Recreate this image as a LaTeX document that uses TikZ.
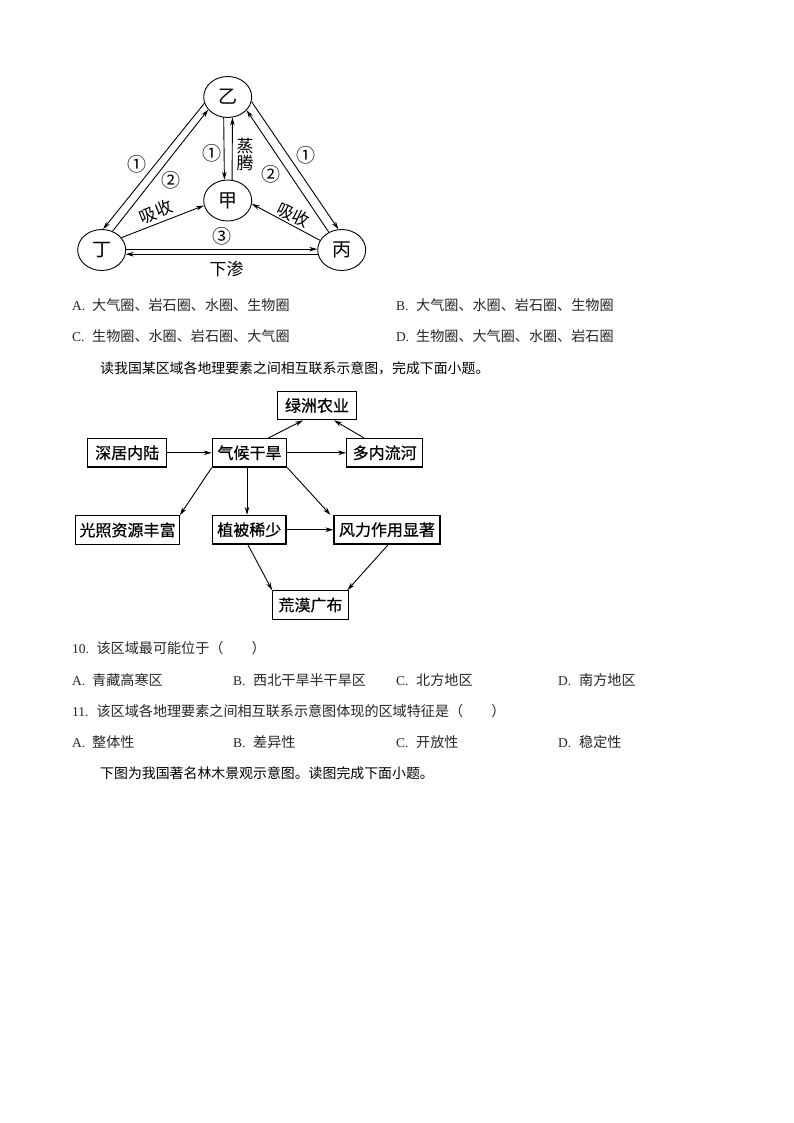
\documentclass[tikz,border=0pt]{standalone}
\usepackage{fontspec}
\setmainfont{Liberation Serif}
\newfontfamily\cjk{Noto Sans CJK SC}
\newfontfamily\cjkbox[FakeBold=0.5]{Noto Sans CJK SC}
\usetikzlibrary{arrows.meta,shapes.geometric}
\tikzset{
  flow/.style={-{Stealth[length=8pt,width=4.6pt]}, line width=0.9pt},
  sphere/.style={draw, ellipse, line width=0.9pt, minimum width=48pt, minimum height=41pt, inner sep=0pt, font=\fontsize{19}{19}\selectfont\cjk},
  tag/.style={inner sep=0pt, font=\fontsize{17}{17}\selectfont\cjk},
  mark no/.style={inner sep=0pt, font=\fontsize{19}{19}\selectfont\cjk},
  factor/.style={draw, line width=1.2pt, minimum height=28.5pt, inner sep=0pt, font=\fontsize{16}{16}\selectfont\cjkbox},
  optkey/.style={anchor=base west, inner sep=0pt, font=\fontsize{13.5}{14}\selectfont, black!85},
  opttext/.style={anchor=base west, inner sep=0pt, font=\fontsize{14.1}{14}\selectfont\cjk, black!85},
  hint/.style={anchor=base west, inner sep=0pt, font=\fontsize{13.9}{14}\selectfont\cjk, black}
}
\begin{document}
\begin{tikzpicture}[x=1pt, y=-1pt]
    \useasboundingbox[fill=white] (0,0) rectangle (794,1123);

    \node[sphere] (yi) at (227.7,97) {乙};
    \node[sphere] (jia) at (227.7,200.5) {甲};
    \node[sphere] (ding) at (101.7,250) {丁};
    \node[sphere] (bing) at (341.7,250) {丙};

    \draw[flow] (yi.195)--(ding.86);
    \draw[flow] (ding.60)--(yi.213);
    \draw[flow] (yi.259)--(jia.99);
    \draw[flow] (jia.78)--(yi.283);
    \draw[flow] (yi.349)--(bing.99);
    \draw[flow] (bing.126)--(yi.325);
    \draw[flow] (ding.32)--(jia.192);
    \draw[flow] (bing.156)--(jia.352);
    \draw[flow] (ding.2)--(bing.178);
    \draw[flow] (bing.190)--(ding.350);

    \node[mark no] (ma) at (136.7,164) {①};
    \node[mark no] (mb) at (171,180.7) {②};
    \node[mark no] (mc) at (211.7,153.3) {①};
    \node[mark no] (md) at (271,174) {②};
    \node[mark no] (me) at (306,155) {①};
    \node[mark no] (mf) at (221.7,236.7) {③};
    \node[tag] (zheng) at (245,146) {蒸};
    \node[tag] (teng) at (245,163.5) {腾};
    \node[tag, rotate=22] (xia) at (156,211.7) {吸收};
    \node[tag, rotate=-26] (xib) at (293.3,215) {吸收};
    \node[tag] (xs) at (226.7,269.3) {下渗};

    \node[optkey] (ka) at (72,310) {A.};
    \node[opttext] (ta) at (92,310) {大气圈、岩石圈、水圈、生物圈};
    \node[optkey] (kb) at (396,310) {B.};
    \node[opttext] (tb) at (416,310) {大气圈、水圈、岩石圈、生物圈};
    \node[optkey] (kc) at (72,341) {C.};
    \node[opttext] (tc) at (92,341) {生物圈、水圈、岩石圈、大气圈};
    \node[optkey] (kd) at (396,341) {D.};
    \node[opttext] (td) at (416,341) {生物圈、大气圈、水圈、岩石圈};
    \node[hint] (read) at (100,373) {读我国某区域各地理要素之间相互联系示意图，完成下面小题。};

    \node[factor, minimum width=79.3pt] (oasis) at (317,405.5) {绿洲农业};
    \node[factor, minimum width=79pt] (inland) at (127.2,452.8) {深居内陆};
    \node[factor, minimum width=74.4pt] (arid) at (249.5,452.8) {气候干旱};
    \node[factor, minimum width=76pt] (river) at (384.7,452.8) {多内流河};
    \node[factor, minimum width=103.6pt] (sun) at (127.5,530) {光照资源丰富};
    \node[factor, minimum width=73.3pt] (plant) at (249.3,529.7) {植被稀少};
    \node[factor, minimum width=106pt] (wind) at (387,529.7) {风力作用显著};
    \node[factor, minimum width=75.6pt] (desert) at (310.5,605) {荒漠广布};

    \draw[flow] ([xshift=19pt]arid.north)--([xshift=-14pt]oasis.south);
    \draw[flow] ([xshift=-20.7pt]river.north)--([xshift=17pt]oasis.south);
    \draw[flow] (inland)--(arid);
    \draw[flow] (arid)--(river);
    \draw[flow] (arid.south west)--(sun.north east);
    \draw[flow] ([xshift=-2.5pt]arid.south)--([xshift=-2.3pt]plant.north);
    \draw[flow] (arid.south east)--([xshift=-3pt]wind.north west);
    \draw[flow] (plant)--(wind);
    \draw[flow] ([xshift=-1.5pt]plant.south)--(desert.north west);
    \draw[flow] ([xshift=1.3pt]wind.south)--([xshift=-1.5pt]desert.north east);

    \node[optkey] (qa) at (72,653) {10.};
    \node[opttext] (qat) at (96.4,653) {该区域最可能位于（　　）};
    \node[optkey] (qaa) at (72,685) {A.};
    \node[opttext] (qaat) at (92,685) {青藏高寒区};
    \node[optkey] (qab) at (233,685) {B.};
    \node[opttext] (qabt) at (253,685) {西北干旱半干旱区};
    \node[optkey] (qac) at (396,685) {C.};
    \node[opttext] (qact) at (416,685) {北方地区};
    \node[optkey] (qad) at (558,685) {D.};
    \node[opttext] (qadt) at (579,685) {南方地区};

    \node[optkey] (qb) at (72,716) {11.};
    \node[opttext] (qbt) at (96.4,716) {该区域各地理要素之间相互联系示意图体现的区域特征是（　　）};
    \node[optkey] (qba) at (72,747) {A.};
    \node[opttext] (qbat) at (92,747) {整体性};
    \node[optkey] (qbb) at (233,747) {B.};
    \node[opttext] (qbbt) at (253,747) {差异性};
    \node[optkey] (qbc) at (396,747) {C.};
    \node[opttext] (qbct) at (416,747) {开放性};
    \node[optkey] (qbd) at (558,747) {D.};
    \node[opttext] (qbdt) at (579,747) {稳定性};
    \node[hint] (nextread) at (100,778) {下图为我国著名林木景观示意图。读图完成下面小题。};
  \end{tikzpicture}
\end{document}
